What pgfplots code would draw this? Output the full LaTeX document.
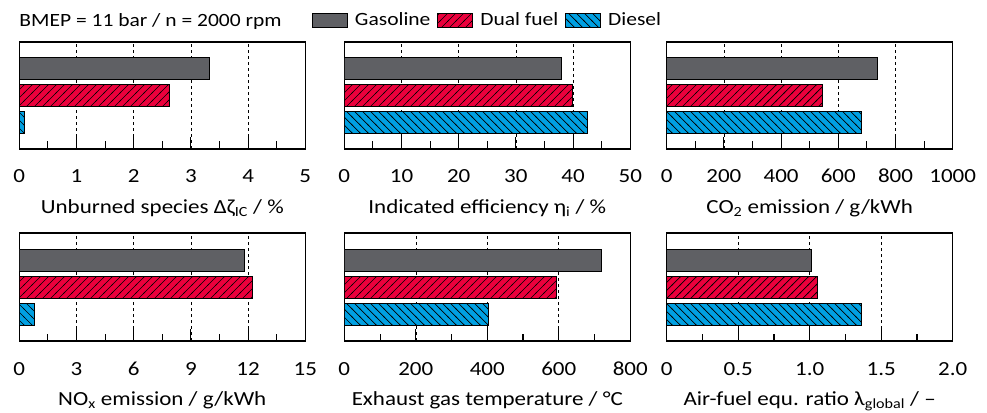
\documentclass[border=0pt]{standalone}
\usepackage{fontspec}
\setmainfont{Carlito}[FakeStretch=1.15]
\usepackage{pgfplots}
\pgfplotsset{compat=1.18}
\usetikzlibrary{patterns}
\pgfdeclarepatternformonly{hatchNE}{\pgfpoint{-1bp}{-1bp}}{\pgfpoint{9bp}{9bp}}{\pgfpoint{8bp}{8bp}}{
  \pgfsetlinewidth{0.7bp}
  \pgfpathmoveto{\pgfpoint{-1bp}{-1bp}}\pgfpathlineto{\pgfpoint{9bp}{9bp}}
  \pgfusepath{stroke}}
\pgfdeclarepatternformonly{hatchNW}{\pgfpoint{-1bp}{-1bp}}{\pgfpoint{9bp}{9bp}}{\pgfpoint{8bp}{8bp}}{
  \pgfsetlinewidth{0.7bp}
  \pgfpathmoveto{\pgfpoint{-1bp}{9bp}}\pgfpathlineto{\pgfpoint{9bp}{-1bp}}
  \pgfusepath{stroke}}
\definecolor{gas}{RGB}{95,96,100}
\definecolor{dual}{RGB}{235,0,60}
\definecolor{dies}{RGB}{0,160,226}
\newcommand{\fA}{\fontsize{18.7bp}{22bp}\selectfont}
\newcommand{\fT}{\fontsize{20bp}{24bp}\selectfont}
\newcommand{\fL}{\fontsize{20bp}{24bp}\selectfont}
\pgfplotsset{
  panel/.style={
    scale only axis, width=286bp, height=107bp, anchor=north west,
    xbar, bar width=22bp, bar shift=0pt,
    ymin=0, ymax=4, ytick=\empty, xmin=0,
    axis line style={line width=1.1bp},
    xtick pos=left, tick align=inside,
    major tick length=12bp, minor tick length=7.5bp,
    minor x tick num=1,
    every tick/.style={black, line width=1.1bp},
    xmajorgrids,
    major grid style={black, line width=0.6bp, dash pattern=on 3bp off 3bp},
    xticklabel style={font=\fT, anchor=base, yshift=-34bp},
    xlabel style={font=\fL, at={(axis description cs:0.5,0)}, anchor=base, yshift=-64bp},
    legend image code/.code={\draw[##1] (0bp,-7bp) rectangle (35bp,7bp);},
  },
  gasb/.style={fill=gas, draw=black, line width=0.8bp},
  dualb/.style={fill=dual, draw=black, line width=0.8bp,
    postaction={pattern=hatchNE, pattern color=black}},
  diesb/.style={fill=dies, draw=black, line width=0.8bp,
    postaction={pattern=hatchNW, pattern color=black}},
}
\begin{document}
\begin{tikzpicture}
\useasboundingbox (0,0) rectangle (987bp,-413bp);
% Panel 1
\begin{axis}[panel, clip=false, at={(19.3bp,-42bp)}, xmax=5, xtick={0,1,2,3,4,5},
  xticklabels={0,1,2,3,4,5},
  xlabel={Unburned species Δζ\textsubscript{IC} / \%},
  legend columns=3,
  legend style={at={(axis description cs:1.0234,1.2056)}, anchor=west, draw=none, fill=none,
    inner sep=0pt, nodes={inner sep=0pt}, font=\fA,
    /tikz/every odd column/.append style={column sep=7bp},
    /tikz/every even column/.append style={column sep=7bp}}]
\addplot[gasb] coordinates {(3.32,3)};
\addplot[dualb] coordinates {(2.63,2)};
\addplot[diesb] coordinates {(0.09,1)};
\legend{Gasoline, Dual fuel, Diesel}
\node[anchor=base west, font=\fA, inner sep=0pt] at (axis description cs:0,1.143) {BMEP = 11 bar / n = 2000 rpm};
\end{axis}
% Panel 2
\begin{axis}[panel, at={(344.3bp,-42bp)}, xmax=50, xtick={0,10,20,30,40,50},
  xticklabels={0,10,20,30,40,50},
  xlabel={Indicated efficiency η\textsubscript{i} / \%}]
\addplot[gasb] coordinates {(37.9,3)};
\addplot[dualb] coordinates {(39.8,2)};
\addplot[diesb] coordinates {(42.5,1)};
\end{axis}
% Panel 3
\begin{axis}[panel, at={(666.7bp,-42bp)}, xmax=1000, xtick={0,200,400,600,800,1000},
  xticklabels={0,200,400,600,800,1000},
  xlabel={CO\textsubscript{2} emission / g/kWh}]
\addplot[gasb] coordinates {(738,3)};
\addplot[dualb] coordinates {(544,2)};
\addplot[diesb] coordinates {(679,1)};
\end{axis}
% Panel 4
\begin{axis}[panel, height=108bp, at={(19.3bp,-233bp)}, xmax=15, xtick={0,3,6,9,12,15},
  xticklabels={0,3,6,9,12,15},
  xlabel={NO\textsubscript{x} emission / g/kWh}]
\addplot[gasb] coordinates {(11.83,3)};
\addplot[dualb] coordinates {(12.22,2)};
\addplot[diesb] coordinates {(0.79,1)};
\end{axis}
% Panel 5
\begin{axis}[panel, height=108bp, at={(344.3bp,-233bp)}, xmax=800, xtick={0,200,400,600,800},
  xticklabels={0,200,400,600,800},
  xlabel={Exhaust gas temperature / °C}]
\addplot[gasb] coordinates {(719,3)};
\addplot[dualb] coordinates {(593,2)};
\addplot[diesb] coordinates {(404,1)};
\end{axis}
% Panel 6
\begin{axis}[panel, height=108bp, at={(666.7bp,-233bp)}, xmax=2, xtick={0,0.5,1,1.5,2},
  xticklabels={0,0.5,1.0,1.5,2.0},
  xlabel={Air-fuel equ. ratio λ\textsubscript{global} / –}]
\addplot[gasb] coordinates {(1.014,3)};
\addplot[dualb] coordinates {(1.056,2)};
\addplot[diesb] coordinates {(1.359,1)};
\end{axis}
\end{tikzpicture}
\end{document}
